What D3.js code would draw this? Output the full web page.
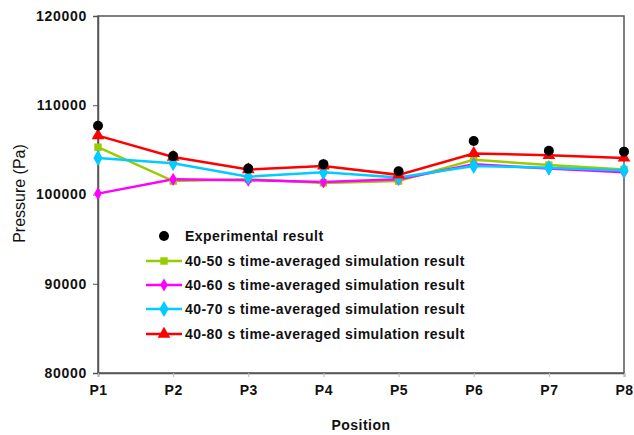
<!DOCTYPE html>
<html>
<head>
<meta charset="utf-8">
<script src="https://cdn.jsdelivr.net/npm/d3@7"></script>
<style>
  html, body { margin: 0; padding: 0; background: #fff; }
  svg { display: block; font-family: Arial, "Liberation Sans", sans-serif; }
</style>
</head>
<body>
<svg id="chart" width="634" height="435"></svg>
<script>
// Measurement positions
const positions = ["P1", "P2", "P3", "P4", "P5", "P6", "P7", "P8"];

// Measured pressure (Pa)
const experimental = [107700, 104300, 102900, 103400, 102600, 106000, 104900, 104800];

// Time-averaged simulated pressure (Pa)
const sim4050 = [105300, 101500, 101700, 101300, 101500, 103900, 103300, 102800];
const sim4060 = [100100, 101700, 101600, 101400, 101700, 103400, 102900, 102500];
const sim4070 = [104100, 103500, 102000, 102500, 101900, 103200, 103000, 102700];
const sim4080 = [106600, 104200, 102800, 103200, 102200, 104600, 104400, 104100];

const yTicks = [80000, 90000, 100000, 110000, 120000];

const seriesLabels = [
  "40-50 s time-averaged simulation result",
  "40-60 s time-averaged simulation result",
  "40-70 s time-averaged simulation result",
  "40-80 s time-averaged simulation result"
];
const seriesColors = ["#99cc00", "#ff00ff", "#00ccff", "#ff0000"];
const seriesShapes = [d3.symbolSquare, d3.symbolDiamond, d3.symbolDiamond, d3.symbolTriangle];
const seriesSizes = [55, 50, 75, 70];
const seriesValues = [sim4050, sim4060, sim4070, sim4080];

const svg = d3.select("#chart");
const margin = { left: 98, right: 10, top: 16, bottom: 62 };
const W = 634, H = 435;

const x = d3.scalePoint().domain(positions).range([margin.left, W - margin.right]);
const y = d3.scaleLinear().domain([80000, 120000]).range([H - margin.bottom, margin.top]);

const axisColor = "#555";

// Plot frame
svg.append("rect")
  .attr("x", margin.left).attr("y", margin.top)
  .attr("width", W - margin.right - margin.left)
  .attr("height", H - margin.bottom - margin.top)
  .attr("fill", "none").attr("stroke", axisColor).attr("stroke-width", 1.5);

// Y axis
const yAxis = svg.append("g")
  .attr("transform", `translate(${margin.left},0)`)
  .call(d3.axisLeft(y).tickValues(yTicks).tickSize(5).tickPadding(6).tickFormat(d3.format("d")));
yAxis.select(".domain").attr("stroke", axisColor).attr("stroke-width", 1.5);
yAxis.selectAll(".tick line").attr("stroke", axisColor).attr("stroke-width", 1);
yAxis.selectAll(".tick text")
  .attr("font-size", 14).attr("font-weight", "bold").attr("fill", "#111")
  .attr("letter-spacing", 0.7)
  .attr("font-family", "Arial, 'Liberation Sans', sans-serif");

// X axis
const xAxis = svg.append("g")
  .attr("transform", `translate(0,${H - margin.bottom})`)
  .call(d3.axisBottom(x).tickSize(4).tickPadding(8));
xAxis.select(".domain").attr("stroke", axisColor).attr("stroke-width", 1.5);
xAxis.selectAll(".tick line").attr("stroke", "#bbb").attr("stroke-width", 1);
xAxis.selectAll(".tick text")
  .attr("font-size", 14).attr("font-weight", "bold").attr("fill", "#111")
  .attr("letter-spacing", 0.5)
  .attr("font-family", "Arial, 'Liberation Sans', sans-serif");

// Axis titles
svg.append("text")
  .attr("x", (margin.left + W - margin.right) / 2).attr("y", 430)
  .attr("text-anchor", "middle").attr("font-size", 14).attr("font-weight", "bold").attr("fill", "#111")
  .attr("letter-spacing", 0.5)
  .text("Position");
svg.append("text")
  .attr("transform", `translate(25,${(margin.top + H - margin.bottom) / 2 - 1}) rotate(-90)`)
  .attr("text-anchor", "middle").attr("font-size", 16).attr("fill", "#111")
  .text("Pressure (Pa)");

// Simulation series: lines then markers
const line = d3.line().x((d, i) => x(positions[i])).y(d => y(d));
seriesValues.forEach((vals, k) => {
  svg.append("path").datum(vals)
    .attr("d", line).attr("fill", "none")
    .attr("stroke", seriesColors[k]).attr("stroke-width", 2.5);
});
seriesValues.forEach((vals, k) => {
  svg.append("g").selectAll("path").data(vals).join("path")
    .attr("transform", (d, i) => `translate(${x(positions[i])},${y(d)})`)
    .attr("d", d3.symbol().type(seriesShapes[k]).size(seriesSizes[k]))
    .attr("fill", seriesColors[k]);
});

// Experimental points
svg.append("g").selectAll("circle").data(experimental).join("circle")
  .attr("cx", (d, i) => x(positions[i])).attr("cy", d => y(d))
  .attr("r", 5).attr("fill", "#000");

// Legend
const legend = svg.append("g").attr("font-size", 14).attr("font-weight", "bold").attr("fill", "#111")
  .attr("letter-spacing", 0.45);
const rowY = [236, 261, 285, 309, 334];
const lx0 = 146, lx1 = 182, tx = 185;
legend.append("circle").attr("cx", (lx0 + lx1) / 2).attr("cy", rowY[0]).attr("r", 5).attr("fill", "#000");
legend.append("text").attr("x", tx).attr("y", rowY[0]).attr("dy", "0.35em").text("Experimental result");
seriesLabels.forEach((lab, k) => {
  const yy = rowY[k + 1];
  legend.append("line").attr("x1", lx0).attr("x2", lx1).attr("y1", yy).attr("y2", yy)
    .attr("stroke", seriesColors[k]).attr("stroke-width", 2.5);
  legend.append("path")
    .attr("transform", `translate(${(lx0 + lx1) / 2},${yy})`)
    .attr("d", d3.symbol().type(seriesShapes[k]).size(seriesSizes[k]))
    .attr("fill", seriesColors[k]);
  legend.append("text").attr("x", tx).attr("y", yy).attr("dy", "0.35em").text(lab);
});
</script>
</body>
</html>
